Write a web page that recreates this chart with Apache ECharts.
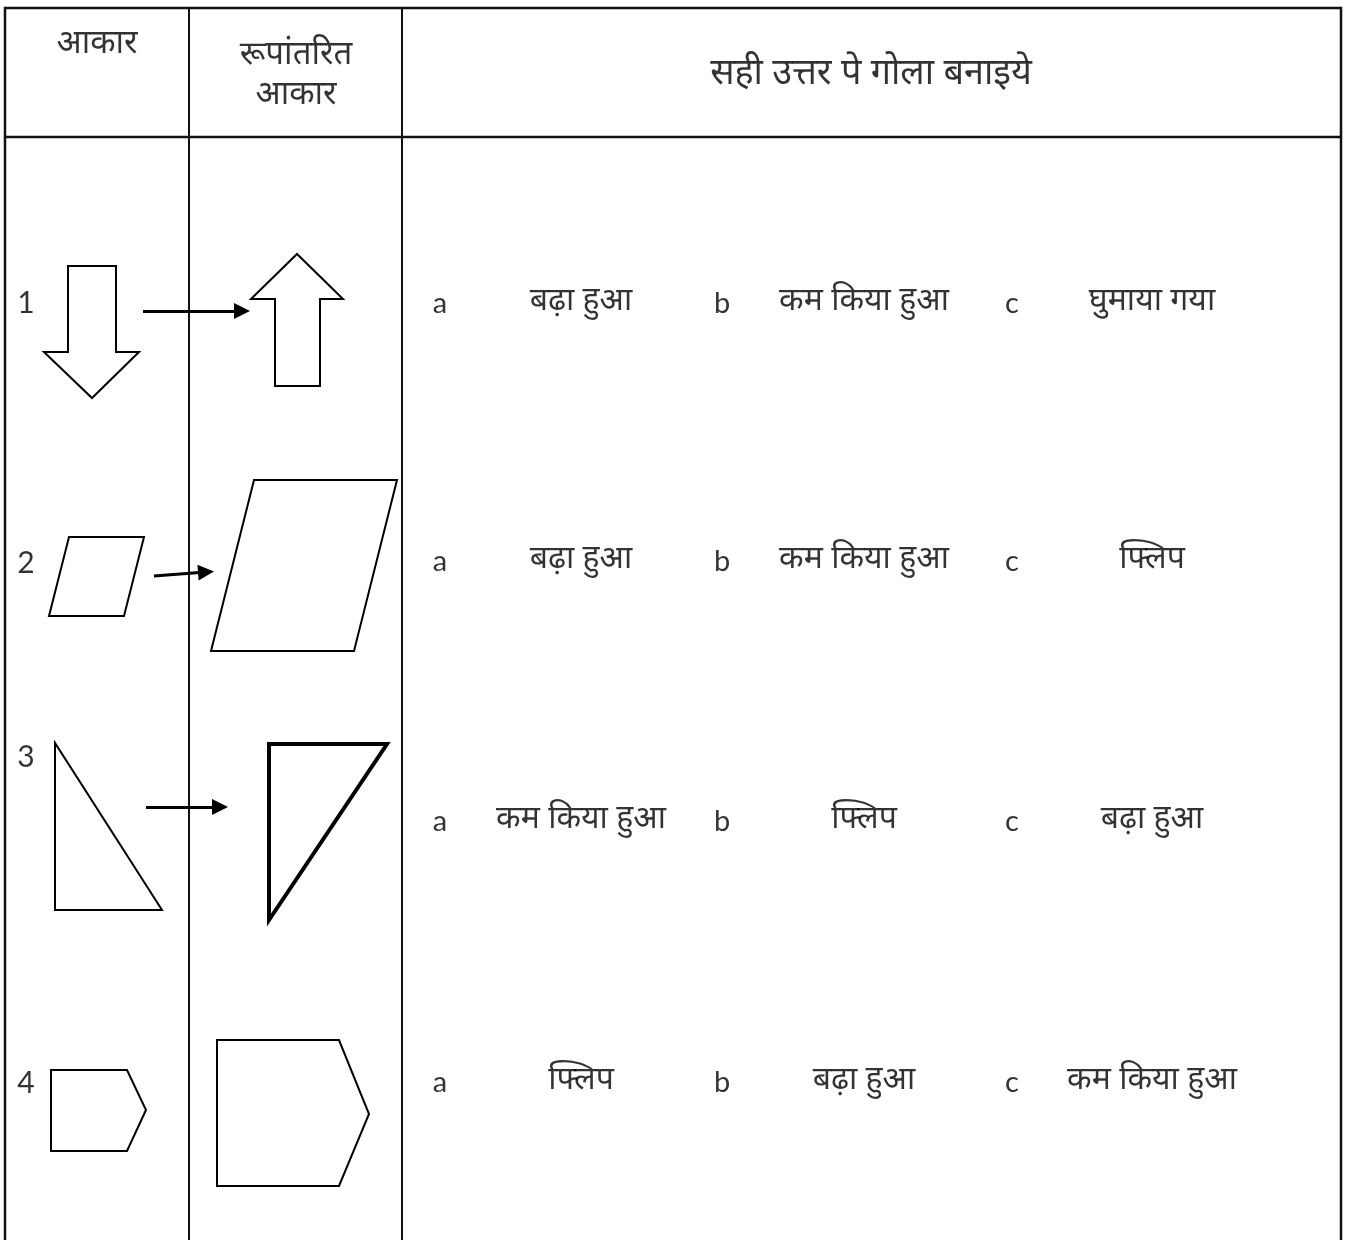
<!DOCTYPE html>
<html>
<head>
<meta charset="utf-8">
<script src="https://cdn.jsdelivr.net/npm/echarts@6/dist/echarts.min.js"></script>
<style>
html,body{margin:0;padding:0;background:#fff;}
#chart{width:1346px;height:1240px;}
</style>
</head>
<body>
<div id="chart"></div>
<script>
// ---- content ----
const headers = ['आकार', 'रूपांतरित', 'आकार', 'सही उत्तर पे गोला बनाइये'];
const rowNumbers = ['1', '2', '3', '4'];
const choiceLetters = ['a', 'b', 'c'];
const choices = [
  ['बढ़ा हुआ', 'कम किया हुआ', 'घुमाया गया'],
  ['बढ़ा हुआ', 'कम किया हुआ', 'फ्लिप'],
  ['कम किया हुआ', 'फ्लिप', 'बढ़ा हुआ'],
  ['फ्लिप', 'बढ़ा हुआ', 'कम किया हुआ']
];
// shape outlines (drawing units)
const originalShapes = [
  [[68,266],[116,266],[116,352],[139,352],[92,398],[44,352],[68,352]],
  [[69,537],[144,537],[124,616],[49,616]],
  [[55,743],[162,910],[55,910]],
  [[51,1070],[127,1070],[146,1110],[127,1151],[51,1151]]
];
const transformedShapes = [
  [[297,254],[343,299],[320,299],[320,386],[275,386],[275,299],[251,299]],
  [[254,480],[397,480],[354,651],[211,651]],
  [[269,744],[387,744],[269,920]],
  [[217,1040],[339,1040],[369,1114],[339,1186],[217,1186]]
];
const transformArrows = [
  [[143,311],[242,311]],
  [[154,576],[206,572]],
  [[146,807],[220,807]]
];

// ---- layout ----
const W = 1346, H = 1240;
const rowY = [304, 562, 822, 1083];
const letterX = [440, 722, 1012];
const choiceX = [581, 864, 1152];
const numberY = [303, 563, 757, 1083];

const chart = echarts.init(document.getElementById('chart'), null, {renderer: 'canvas'});

const devFont = '"Noto Sans", "Noto Sans Devanagari", "Lohit Devanagari", "Mukta", sans-serif';
const latFont = '"Lato", "Open Sans", sans-serif';

function polySeries(pts, width) {
  return {
    type: 'line', data: pts.concat([pts[0], pts[1]]), symbol: 'none', silent: true,
    lineStyle: {color: '#000', width: width, join: 'miter'}, animation: false, z: 3
  };
}
function textSeries(items, font, size, weight) {
  return {
    type: 'scatter', symbolSize: 0, silent: true, animation: false, z: 5,
    data: items.map(it => ({value: [it[0], it[1]], name: it[2]})),
    label: {show: true, position: 'inside', formatter: '{b}', color: '#000',
            fontFamily: font, fontSize: size, fontWeight: weight || 'normal',
            align: 'center', verticalAlign: 'middle'}
  };
}

const series = [];
originalShapes.forEach(s => series.push(polySeries(s, 2)));
transformedShapes.forEach((s, i) => series.push(polySeries(s, i === 2 ? 4 : 2)));
series.push({
  type: 'lines', coordinateSystem: 'cartesian2d', silent: true, animation: false, z: 4,
  symbol: ['none', 'triangle'], symbolSize: [14, 16],
  lineStyle: {color: '#000', width: 3, opacity: 1},
  data: transformArrows.map(c => ({coords: c}))
});

// header texts
series.push(textSeries([[97, 44, headers[0]]], devFont, 33));
series.push(textSeries([[296, 55, headers[1]], [296, 95, headers[2]]], devFont, 33));
series.push(textSeries([[871, 74, headers[3]]], devFont, 36));
// row numbers
series.push(textSeries(rowNumbers.map((n, i) => [26, numberY[i], n]), latFont, 30));
// letters / choices
const letterItems = [], choiceItems = [];
choices.forEach((row, r) => {
  row.forEach((c, k) => {
    letterItems.push([letterX[k], rowY[r], choiceLetters[k]]);
    choiceItems.push([choiceX[k], rowY[r] - 3, c]);
  });
});
series.push(textSeries(letterItems, latFont, 29));
series.push(textSeries(choiceItems, devFont, 32));

chart.setOption({
  animation: false,
  backgroundColor: '#fff',
  grid: {left: 0, right: 0, top: 0, bottom: 0},
  xAxis: {type: 'value', min: 0, max: W, show: false},
  yAxis: {type: 'value', min: 0, max: H, inverse: true, show: false},
  graphic: [
    {type: 'rect', shape: {x: 5, y: 8, width: 1336, height: 1260}, style: {fill: 'none', stroke: '#111', lineWidth: 2.5}, z: 1, silent: true},
    {type: 'line', shape: {x1: 5, y1: 137, x2: 1341, y2: 137}, style: {stroke: '#111', lineWidth: 2.5}, z: 1, silent: true},
    {type: 'line', shape: {x1: 189, y1: 8, x2: 189, y2: 1260}, style: {stroke: '#111', lineWidth: 2}, z: 1, silent: true},
    {type: 'line', shape: {x1: 402, y1: 8, x2: 402, y2: 1260}, style: {stroke: '#111', lineWidth: 2}, z: 1, silent: true}
  ],
  series: series
});
</script>
</body>
</html>
